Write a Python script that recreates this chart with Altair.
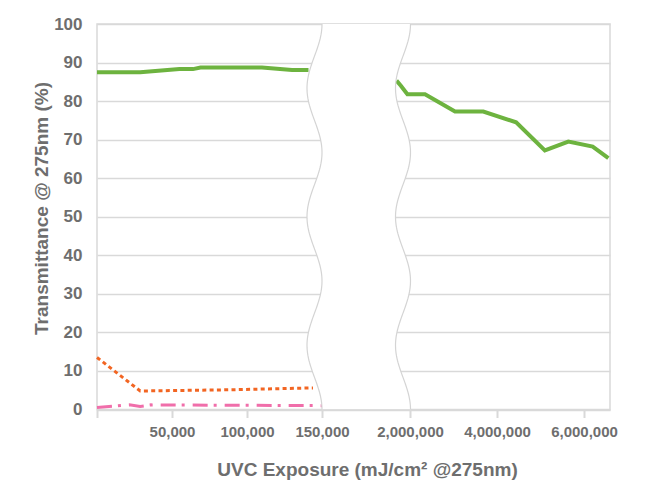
import altair as alt
import numpy as np
import pandas as pd

# UVC exposure (mJ/cm² @275nm) and transmittance @275nm (%) for each sample
green_low_x = [0, 28_800, 55_000, 64_000, 69_000, 110_000, 130_000, 141_000]
green_low_y = [87.5, 87.5, 88.3, 88.3, 88.7, 88.7, 88.1, 88.1]
green_high_x = [1_690_000, 1_790_000, 1_940_000, 2_345_000, 3_035_000, 3_685_000,
                4_440_000, 5_100_000, 5_640_000, 6_200_000, 6_560_000]
green_high_y = [85.3, 84.0, 81.8, 81.8, 77.3, 77.3, 74.5, 67.2, 69.5, 68.2, 65.2]
orange_x = [0, 28_800, 86_000, 144_000]
orange_y = [13.5, 4.8, 5.1, 5.6]
pink_x = [0, 21_600, 28_800, 36_000, 150_000]
pink_y = [0.5, 1.2, 0.8, 1.2, 1.0]

tick_exposures = [0, 50_000, 100_000, 150_000, 2_000_000, 4_000_000, 6_000_000]
y_ticks = list(range(0, 101, 10))

# Broken x axis: a low segment (0-150,000) and a high segment (from 2,000,000),
# laid out on one linear "axis unit" scale with a gap in between.
LOW_END = 150_000
LOW_SPAN = 225.0
GAP = 88.0
HIGH_START = 2_000_000
HIGH_STEP = 87.0 / 2_000_000
AXIS_MAX = 513.0
HIGH_ORIGIN = LOW_SPAN + GAP


def to_axis(v):
    if v < 1_000_000:
        return v * LOW_SPAN / LOW_END
    return HIGH_ORIGIN + (v - HIGH_START) * HIGH_STEP


def series(xs, ys, name):
    return pd.DataFrame({"u": [to_axis(v) for v in xs], "val": ys, "part": name})


green = pd.concat([series(green_low_x, green_low_y, "low"),
                   series(green_high_x, green_high_y, "high")])
orange = series(orange_x, orange_y, "low")
pink = series(pink_x, pink_y, "low")

# Wavy break band drawn across the gap
t = np.linspace(0, 100, 181)
wave_center = LOW_SPAN - 7.5
left_edge = wave_center + 7.5 * np.cos(2 * np.pi * 3 * (100 - t) / 100)
right_edge = left_edge + GAP + 0.5
band = pd.DataFrame({"val": t, "u": left_edge, "u2": right_edge})
edges = pd.concat([
    pd.DataFrame({"val": t, "u": left_edge, "side": "left"}),
    pd.DataFrame({"val": t, "u": right_edge, "side": "right"}),
])

label_expr = (
    "datum.value == 0 ? '' : datum.value <= {ls} ? "
    "format(round(datum.value * {le} / {ls}), ',') : "
    "format(round({hs} + (datum.value - {ho}) / {st}), ',')"
).format(ls=LOW_SPAN, le=LOW_END, hs=HIGH_START, ho=HIGH_ORIGIN, st=HIGH_STEP)

GRID = "#d9d9d9"
TEXT = "#6e6e6e"

x_enc = alt.X(
    "u:Q",
    scale=alt.Scale(domain=[0, AXIS_MAX], nice=False, zero=False),
    axis=alt.Axis(
        values=[to_axis(v) for v in tick_exposures],
        labelExpr=label_expr,
        grid=False,
        domainColor=GRID,
        domainWidth=1.5,
        tickColor=GRID,
        tickWidth=2,
        tickSize=8,
        labelPadding=7,
        labelFontSize=15,
        labelFontWeight="bold",
        labelColor=TEXT,
        labelFlush=False,
        title="UVC Exposure (mJ/cm² @275nm)",
        titleFontSize=19,
        titleFontWeight="bold",
        titleColor=TEXT,
        titleX=270,
        titleY=66,
        titleBaseline="alphabetic",
        zindex=1,
    ),
)
y_enc = alt.Y(
    "val:Q",
    scale=alt.Scale(domain=[0, 100], nice=False),
    axis=alt.Axis(
        values=y_ticks,
        grid=True,
        gridColor=GRID,
        gridWidth=1.5,
        domain=False,
        ticks=False,
        labelPadding=15,
        labelFontSize=17,
        labelFontWeight="bold",
        labelColor=TEXT,
        title="Transmittance @ 275nm (%)",
        titleFontSize=19,
        titleFontWeight="bold",
        titleColor=TEXT,
        titleX=-50,
        titleY=184,
        titleBaseline="alphabetic",
        zindex=0,
    ),
)

green_line = alt.Chart(green).mark_line(color="#6db33f", strokeWidth=4).encode(
    x=x_enc, y=y_enc, detail="part:N")
orange_line = alt.Chart(orange).mark_line(
    color="#f26522", strokeWidth=3, strokeDash=[4, 3.3]).encode(x=x_enc, y=y_enc)
pink_line = alt.Chart(pink).mark_line(
    color="#f06eaa", strokeWidth=3, strokeDash=[15, 6, 3, 8]).encode(x=x_enc, y=y_enc)

band_fill = alt.Chart(band).mark_area(color="white", orient="horizontal", opacity=1).encode(
    x=x_enc, x2="u2:Q", y=y_enc)
band_edges = alt.Chart(edges).mark_line(color="#d4d4d4", strokeWidth=1.2).encode(
    x=x_enc, y=y_enc, detail="side:N", order="val:Q")

chart = (
    alt.layer(green_line, orange_line, pink_line, band_fill, band_edges)
    .properties(
        width=AXIS_MAX,
        height=385.5,
        autosize=alt.AutoSizeParams(type="none"),
        padding={"left": 97, "top": 24, "right": 43, "bottom": 77.5},
    )
    .configure(font="Liberation Sans", background="white")
    .configure_view(stroke=GRID, strokeWidth=1.5)
)

chart.save("out.html", embed_options={"renderer": "svg", "actions": False})
